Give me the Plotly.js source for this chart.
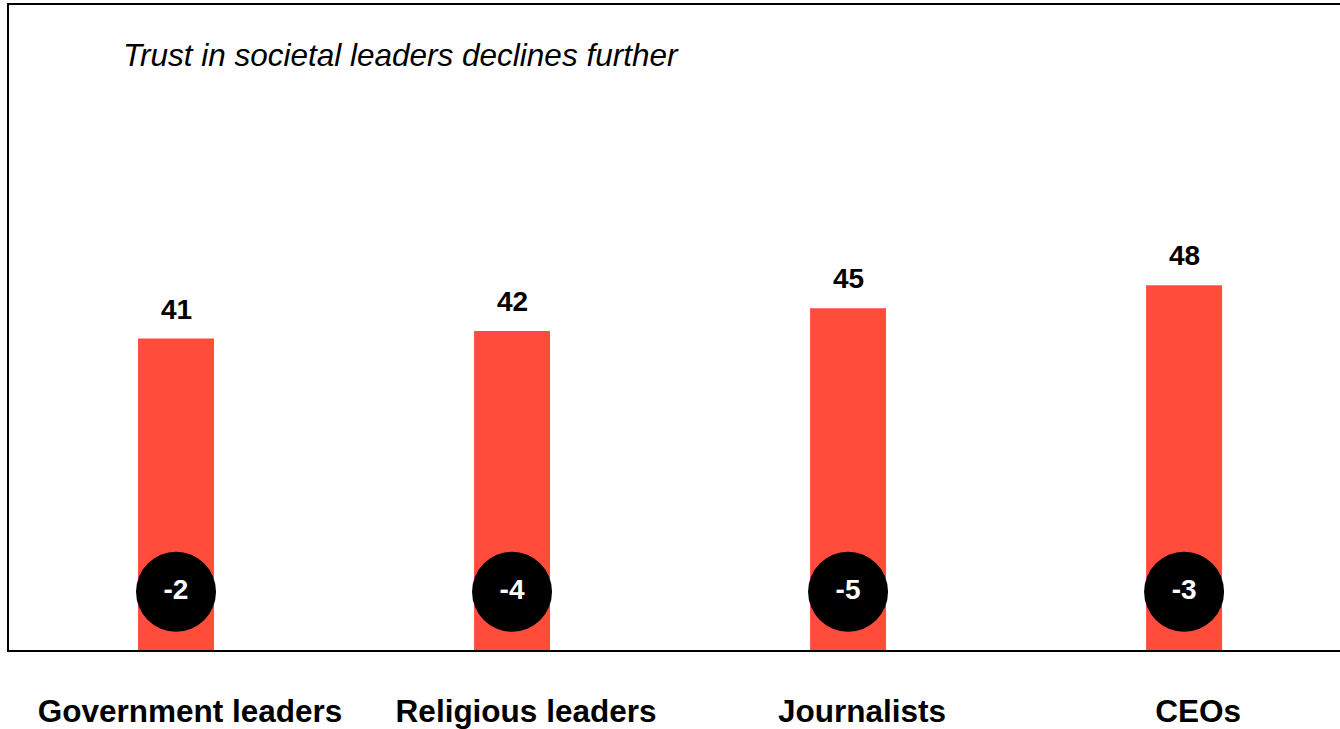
<!DOCTYPE html>
<html>
<head>
<meta charset="utf-8">
<script src="https://cdn.plot.ly/plotly-3.0.1.min.js"></script>
<style>html,body{margin:0;padding:0;background:#fff;}#chart{width:1340px;height:729px;}</style>
</head>
<body>
<div id="chart"></div>
<script>
var categories = ["Government leaders", "Religious leaders", "Journalists", "CEOs"];
var trustValues = [41, 42, 45, 48];
var changeValues = [-2, -4, -5, -3];
var changeLabels = ["-2", "-4", "-5", "-3"];
var titleText = "Trust in societal leaders declines further";

var FONT = "Liberation Sans, Arial, sans-serif";
var RED = "#ff4c3b";

var bars = {
  type: "bar",
  x: categories,
  y: trustValues,
  width: 0.226,
  marker: {color: RED, line: {width: 0}},
  hoverinfo: "x+y",
  showlegend: false
};

var circles = {
  type: "scatter",
  mode: "markers+text",
  x: categories,
  y: categories.map(function(){ return 7.67; }),
  text: changeLabels,
  textposition: "middle center",
  textfont: {family: FONT, size: 28, color: "#ffffff", weight: "bold"},
  marker: {size: 80, color: "#000000", line: {width: 0}},
  cliponaxis: false,
  hoverinfo: "text",
  showlegend: false
};

var annotations = categories.map(function(c, i){
  return {
    x: c, y: trustValues[i], xref: "x", yref: "y",
    text: "<b>" + trustValues[i] + "</b>",
    showarrow: false, yanchor: "bottom", yshift: 12,
    font: {family: FONT, size: 28, color: "#000000"}
  };
});

var layout = {
  width: 1340, height: 729,
  margin: {l: 9, r: 0, t: 5, b: 79},
  paper_bgcolor: "#ffffff",
  plot_bgcolor: "#ffffff",
  font: {family: FONT, color: "#000000"},
  title: {
    text: "<i>" + titleText + "</i>",
    font: {family: FONT, size: 31.5, color: "#000000"},
    xref: "container", yref: "container",
    x: 123/1340, xanchor: "left",
    y: 1 - 55/729, yanchor: "middle"
  },
  xaxis: {
    type: "category",
    range: [-0.497, 3.464],
    showline: true, linecolor: "#000000", linewidth: 2, mirror: true,
    showgrid: false, zeroline: false,
    ticks: "",
    tickfont: {family: FONT, size: 31.5, color: "#000000", weight: "bold"},
    ticklabelshift: 14,
    ticklabelstandoff: 32,
    fixedrange: true
  },
  yaxis: {
    range: [0, 84.9],
    showline: true, linecolor: "#000000", linewidth: 2, mirror: true,
    showgrid: false, zeroline: false,
    showticklabels: false, ticks: "",
    fixedrange: true
  },
  annotations: annotations,
  showlegend: false
};

Plotly.newPlot("chart", [bars, circles], layout, {displayModeBar: false, staticPlot: true});
</script>
</body>
</html>
